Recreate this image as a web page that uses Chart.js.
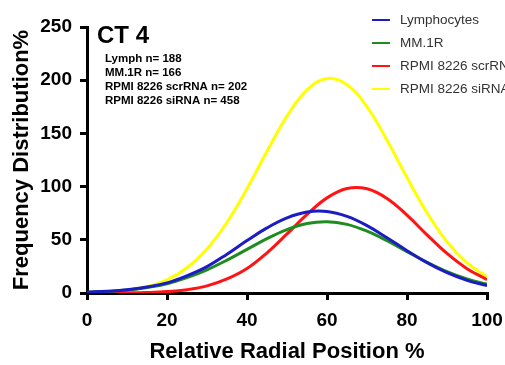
<!DOCTYPE html>
<html>
<head>
<meta charset="UTF-8">
<title>CT 4</title>
<script src="https://cdn.jsdelivr.net/npm/chart.js"></script>
<style>
    body { margin: 0; background: #ffffff; }
    #wrap { width: 505px; height: 365px; }
</style>
</head>
<body>
<div id="wrap"><canvas id="ct4" width="505" height="365"></canvas></div>
<script>
    // relative radial position (%)
    const positions = [0, 5, 10, 15, 20, 25, 30, 35, 40, 45, 50, 55, 60, 65, 70, 75, 80, 85, 90, 95, 100];

    const lymphocytes = [0.8, 1.6, 3.0, 5.6, 9.5, 16.2, 24.8, 36.5, 49.3, 61.2, 70.6, 76.1, 76.6, 72.0, 63.3, 51.9, 39.8, 28.5, 19.1, 11.9, 7.0];
    const mm1r = [0.7, 1.4, 2.8, 5.2, 8.7, 14.4, 21.8, 30.9, 41.0, 51.1, 59.6, 65.3, 67.0, 64.5, 58.1, 49.1, 38.9, 28.9, 20.1, 13.2, 8.3];
    const rpmiScr = [0.0, 0.1, 0.2, 0.5, 1.3, 3.1, 6.7, 13.2, 23.0, 37.8, 55.5, 73.8, 89.4, 98.2, 98.0, 88.9, 73.2, 54.7, 37.2, 22.9, 12.6];
    const rpmiSi = [0.4, 1.1, 2.7, 6.1, 12.3, 23.7, 41.4, 66.5, 98.1, 133.2, 166.3, 190.9, 201.6, 195.8, 174.9, 143.6, 108.5, 75.4, 48.1, 28.3, 15.3];

    const seriesNames = ['Lymphocytes', 'MM.1R', 'RPMI 8226 scrRNA', 'RPMI 8226 siRNA'];
    const seriesColors = ['#1c1cc4', '#1e8c1e', '#ff1414', '#ffff00'];
    const countLines = ['Lymph n= 188', 'MM.1R n= 166', 'RPMI 8226 scrRNA n= 202', 'RPMI 8226 siRNA n= 458'];

    const yTicks = [0, 50, 100, 150, 200, 250];
    const xTicks = [0, 20, 40, 60, 80, 100];

    const toPoints = (ys) => positions.map((x, i) => ({ x: x, y: ys[i] }));
    const allSeries = [lymphocytes, mm1r, rpmiScr, rpmiSi];

    const font = 'Liberation Sans, Arial, sans-serif';

    // title, n counts and the key on the right
    const extras = {
        id: 'extras',
        afterDraw(chart) {
            const ctx = chart.ctx;
            ctx.save();
            ctx.fillStyle = '#000';
            ctx.textAlign = 'left';
            ctx.textBaseline = 'alphabetic';
            ctx.font = 'bold 24px ' + font;
            ctx.fillText('CT 4', 97, 43);
            ctx.font = 'bold 11.5px ' + font;
            ctx.textBaseline = 'middle';
            countLines.forEach((t, i) => ctx.fillText(t, 105, 59 + i * 14));

            ctx.font = '13.5px ' + font;
            chart.data.datasets.forEach((ds, i) => {
                const y = 20 + i * 23;
                ctx.strokeStyle = ds.borderColor;
                ctx.lineWidth = 2;
                ctx.beginPath();
                ctx.moveTo(372, y);
                ctx.lineTo(390, y);
                ctx.stroke();
                ctx.fillStyle = '#333';
                ctx.fillText(ds.label, 400, y);
            });
            ctx.restore();
        }
    };

    new Chart(document.getElementById('ct4'), {
        type: 'line',
        data: {
            datasets: allSeries.map((s, i) => ({
                label: seriesNames[i],
                data: toPoints(s),
                borderColor: seriesColors[i],
                borderWidth: 3,
                pointRadius: 0,
                fill: false,
                tension: 0.4
            }))
        },
        options: {
            responsive: false,
            animation: false,
            layout: { padding: { top: 27, right: 18, left: 9, bottom: 0 } },
            plugins: { legend: { display: false }, tooltip: { enabled: false } },
            scales: {
                x: {
                    type: 'linear',
                    min: 0,
                    max: 100,
                    afterBuildTicks: (s) => { s.ticks = xTicks.map(v => ({ value: v })); },
                    afterFit: (s) => { s.height = 72; s.paddingLeft = 0; s.paddingRight = 0; },
                    border: { color: '#000', width: 3 },
                    grid: { drawOnChartArea: false, color: '#000', lineWidth: 3, tickLength: 7 },
                    ticks: { color: '#000', padding: 9, maxRotation: 0, font: { family: font, size: 19, weight: 'bold' } },
                    title: { display: true, text: 'Relative Radial Position %', color: '#000', padding: { top: 4, bottom: 0 },
                             font: { family: font, size: 22, weight: 'bold' } }
                },
                y: {
                    min: 0,
                    max: 250,
                    afterBuildTicks: (s) => { s.ticks = yTicks.map(v => ({ value: v })); },
                    afterFit: (s) => { s.width = 78; },
                    border: { color: '#000', width: 3 },
                    grid: { drawOnChartArea: false, color: '#000', lineWidth: 3, tickLength: 7 },
                    ticks: { color: '#000', padding: 8, font: { family: font, size: 19, weight: 'bold' } },
                    title: { display: true, text: 'Frequency Distribution%', color: '#000', padding: 0,
                             font: { family: font, size: 22, weight: 'bold' } }
                }
            }
        },
        plugins: [extras]
    });
</script>
</body>
</html>
